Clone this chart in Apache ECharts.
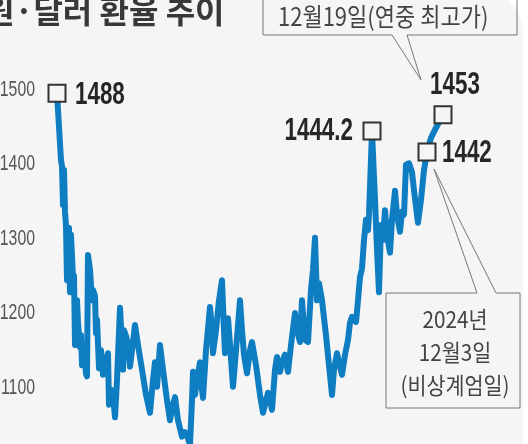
<!DOCTYPE html>
<html>
<head>
<meta charset="utf-8">
<script src="https://cdn.jsdelivr.net/npm/echarts@6/dist/echarts.min.js"></script>
<style>
  html, body { margin: 0; padding: 0; background: #fff; }
  #main { width: 528px; height: 444px; }
</style>
</head>
<body>
<div id="main"></div>
<script>
// 원·달러 환율 (x = 거래일 순서, 그림에서 읽은 값)
const days = [
  0, 4, 5, 6, 7, 8, 9, 10, 12, 13,
  14, 16, 17, 18, 20, 21, 23, 24, 25, 27,
  29, 30, 31, 33, 35, 36, 38, 39, 40, 42,
  44, 46, 48, 50, 51, 52, 54, 56, 58, 60,
  63, 65, 66, 67, 69, 71, 73, 75, 78, 81,
  85, 89, 93, 96, 98, 100, 103, 106, 110, 113,
  116, 118, 121, 125, 128, 130, 133, 135, 136, 138,
  140, 143, 145, 146, 149, 153, 155, 156, 159, 162,
  165, 167, 168, 170, 171, 173, 176, 179, 183, 185,
  187, 190, 193, 195, 199, 203, 206, 208, 211, 213,
  215, 218, 220, 223, 225, 228, 231, 234, 238, 240,
  243, 245, 248, 251, 254, 256, 258, 260, 262, 265,
  269, 272, 275, 277, 280, 283, 285, 288, 291, 293,
  295, 297, 299, 301, 303, 305, 307, 309, 311, 312,
  315, 318, 320, 322, 324, 326, 328, 330, 333, 335,
  338, 340, 343, 345, 347, 349, 352, 355, 357, 361,
  364, 367, 370, 374, 378, 386
];
const rate = [
  1495, 1405, 1397, 1345, 1392, 1336, 1317, 1244, 1314, 1228,
  1305, 1247, 1250, 1157, 1217, 1187, 1154, 1170, 1130, 1157,
  1118, 1115, 1278, 1258, 1217, 1231, 1223, 1173, 1191, 1126,
  1150, 1117, 1137, 1140, 1146, 1077, 1097, 1090, 1060, 1110,
  1207, 1157, 1124, 1177, 1169, 1157, 1128, 1150, 1184, 1157,
  1124, 1090, 1066, 1110, 1134, 1101, 1157, 1124, 1083, 1056,
  1077, 1087, 1056, 1034, 1040, 1036, 1023, 1083, 1121, 1090,
  1110, 1134, 1097, 1086, 1150, 1208, 1177, 1146, 1177, 1217,
  1244, 1177, 1146, 1177, 1193, 1157, 1101, 1150, 1217, 1177,
  1144, 1119, 1150, 1161, 1130, 1090, 1066, 1066, 1093, 1083,
  1070, 1124, 1141, 1121, 1134, 1144, 1121, 1157, 1200, 1177,
  1161, 1217, 1164, 1161, 1231, 1258, 1301, 1217, 1240, 1217,
  1170, 1130, 1090, 1124, 1146, 1128, 1117, 1144, 1164, 1187,
  1195, 1191, 1188, 1217, 1248, 1260, 1298, 1325, 1311, 1332,
  1444.2, 1352, 1285, 1228, 1318, 1298, 1338, 1305, 1281, 1325,
  1364, 1332, 1309, 1336, 1332, 1399, 1401, 1389, 1365, 1321,
  1352, 1392, 1416, 1435, 1446, 1466
];
const yTicks = [1100, 1200, 1300, 1400, 1500];
const markerIdx = [0, 140, 162, 165];
const markerText = ['1488', '1444.2', '1442', '1453'];

const numFont = "'Liberation Sans', Arial, sans-serif";
const kr = "'Noto Sans CJK KR', sans-serif";
const bg = '#f5f5f5';

// 숫자 라벨 위치 (마커 기준 오프셋, 정렬)
const labelLayout = [
  { dx: 18, dy: 1.5, align: 'left' },
  { dx: -19, dy: 0, align: 'right' },
  { dx: 15, dy: 1.5, align: 'left' },
  { dx: 12, dy: -30, align: 'center' }
];

const chart = echarts.init(document.getElementById('main'));

const staticGraphic = [
  { type: 'rect', z: -100, shape: { x: -10, y: -10, width: 533, height: 470, r: [0, 43, 0, 0] },
    style: { fill: bg } },
  { type: 'text', z: 100, x: -15, y: -5,
    style: { text: '원·달러 환율 추이', fontSize: 32, fontWeight: 'bold', fontFamily: kr, fill: '#383838',
             textVerticalAlign: 'top' } },
  { type: 'polyline', z: 100,
    shape: { points: [[263, -5], [263, 35], [392, 35], [421, 80], [407, 35], [517, 35], [517, -5]] },
    style: { stroke: '#777', lineWidth: 1, fill: null } },
  { type: 'text', z: 100, x: 278, y: 16, scaleX: 0.88,
    style: { text: '12월19일(연중 최고가)', fontSize: 25, fontFamily: kr, fill: '#444',
             textVerticalAlign: 'middle' } },
  { type: 'polyline', z: 100,
    shape: { points: [[477, 293], [386, 293], [386, 408], [520, 408], [520, 293], [496, 293], [434, 169], [477, 293]] },
    style: { stroke: '#777', lineWidth: 1, fill: null } },
  { type: 'text', z: 100, x: 455, y: 303, scaleX: 0.9,
    style: { text: '2024년\n12월3일\n(비상계엄일)', fontSize: 23, lineHeight: 33, fontFamily: kr, fill: '#444',
             textAlign: 'center', textVerticalAlign: 'top' } }
];

const option = {
  animation: false,
  backgroundColor: '#fff',
  grid: { left: 57, top: 89.5, width: 386, height: 372.5, outerBoundsMode: 'none', containLabel: false },
  xAxis: { type: 'value', min: 0, max: 386, show: false },
  yAxis: {
    type: 'value', min: 1000, max: 1500, interval: 100,
    axisLine: { show: false }, axisTick: { show: false }, splitLine: { show: false },
    axisLabel: { show: false }
  },
  graphic: staticGraphic,
  series: [
    {
      type: 'line',
      data: days.map((d, i) => [d, rate[i]]),
      showSymbol: false,
      lineStyle: { color: '#0f7dc2', width: 6, join: 'round' },
      z: 2
    },
    {
      type: 'scatter',
      z: 5,
      symbol: 'rect',
      symbolSize: 17,
      itemStyle: { color: bg, borderColor: '#333', borderWidth: 2, opacity: 1 },
      data: markerIdx.map(idx => [days[idx], rate[idx]])
    }
  ]
};

chart.setOption(option);

// 축 눈금 라벨과 숫자 라벨: 좁은 글꼴 효과를 위해 graphic 텍스트로 (좌표는 축에서 변환)
const extra = [];
yTicks.forEach(v => {
  const y = chart.convertToPixel({ yAxisIndex: 0 }, v);
  extra.push({ type: 'text', z: 100, x: 35, y: y, scaleX: 0.72,
    style: { text: String(v), fontSize: 22, fontFamily: numFont, fill: '#555',
             textAlign: 'right', textVerticalAlign: 'middle' } });
});
markerIdx.forEach((idx, k) => {
  const p = chart.convertToPixel({ xAxisIndex: 0, yAxisIndex: 0 }, [days[idx], rate[idx]]);
  const l = labelLayout[k];
  extra.push({ type: 'text', z: 100, x: p[0] + l.dx, y: p[1] + l.dy, scaleX: 0.7,
    style: { text: markerText[k], fontSize: 32, fontWeight: 'bold', fontFamily: numFont, fill: '#262626',
             textAlign: l.align, textVerticalAlign: 'middle' } });
});
chart.setOption({ graphic: staticGraphic.concat(extra) });
</script>
</body>
</html>
